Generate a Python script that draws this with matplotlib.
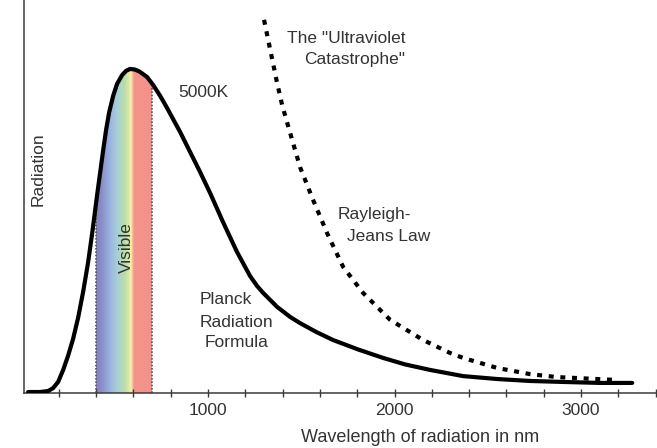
import numpy as np
import matplotlib
matplotlib.use("Agg")
import matplotlib.pyplot as plt
from matplotlib.colors import LinearSegmentedColormap
from matplotlib.patches import Polygon

plt.rcParams['font.family'] = ['Liberation Sans', 'DejaVu Sans']

# Planck curve at 5000K (nm, relative radiation)
planck_nm = [35, 99, 142, 169, 196, 223, 249, 276, 303, 330, 357, 378, 405, 421,
             437, 453, 469, 491, 512, 539, 560, 582, 609, 635, 673, 705, 743, 780,
             812, 850, 903, 957, 1011, 1080, 1155, 1225, 1263, 1295, 1370, 1440,
             1493, 1579, 1670, 1804, 1938, 2056, 2190, 2367, 2550, 2727, 2903,
             3102, 3274]
planck_val = [0.003, 0.003, 0.006, 0.015, 0.034, 0.071, 0.114, 0.166, 0.231, 0.311,
              0.403, 0.489, 0.609, 0.677, 0.745, 0.809, 0.862, 0.914, 0.951, 0.978,
              0.991, 0.997, 0.995, 0.988, 0.972, 0.948, 0.914, 0.877, 0.843, 0.803,
              0.742, 0.680, 0.615, 0.526, 0.434, 0.360, 0.329, 0.308, 0.265, 0.234,
              0.215, 0.188, 0.163, 0.134, 0.108, 0.088, 0.071, 0.052, 0.043, 0.037,
              0.034, 0.031, 0.031]

# Rayleigh-Jeans curve
rj_nm = [1300, 1370, 1397, 1440, 1493, 1563, 1638, 1724, 1831, 1976, 2153, 2298,
         2367, 2550, 2727, 2871, 3193]
rj_val = [1.148, 0.954, 0.886, 0.800, 0.695, 0.594, 0.492, 0.388, 0.308, 0.225,
          0.163, 0.123, 0.108, 0.077, 0.058, 0.049, 0.040]

# visible band
vis_lo, vis_hi = 400, 700
spec_nm = [400, 430, 475, 515, 550, 575, 588, 598, 605, 700]
spec_col = ['#8682c0', '#8a8ec8', '#9ab4e0', '#a8d0d8', '#b8dcac', '#d8e8a8',
            '#f8f2a8', '#f8b098', '#f4948a', '#f4928a']

tick_pos = list(range(200, 3401, 200))
tick_lab = ['1000', '2000', '3000']

ink = '#333333'
axc = '#3a3a3a'

fig = plt.figure(figsize=(6.57, 4.48), dpi=100)
ax = fig.add_axes([24 / 657, 55 / 448, 1 - 24 / 657, 1 - 55 / 448])

# spectrum gradient clipped to the area under the curve
stops = [(n - vis_lo) / (vis_hi - vis_lo) for n in spec_nm]
cmap = LinearSegmentedColormap.from_list('vis', list(zip(stops, spec_col)))
grad = np.linspace(0, 1, 300).reshape(1, -1)
im = ax.imshow(grad, cmap=cmap, extent=[vis_lo, vis_hi, 0, 1.2], aspect='auto',
               origin='lower', zorder=1, interpolation='bilinear')
clip = Polygon(list(zip(planck_nm, planck_val)) + [(planck_nm[-1], 0), (planck_nm[0], 0)],
               closed=True, transform=ax.transData, facecolor='none', edgecolor='none')
im.set_clip_path(clip)

for edge in (vis_lo, vis_hi):
    ax.plot([edge, edge], [0, np.interp(edge, planck_nm, planck_val)],
            color='#555555', lw=1.2, linestyle=(0, (1, 1)), zorder=2)

ax.plot(planck_nm, planck_val, color='black', lw=3, solid_capstyle='round',
        solid_joinstyle='round', zorder=3)
ax.plot(rj_nm, rj_val, color='black', lw=3, linestyle=(0, (1.2, 1.6)),
        dash_capstyle='butt', zorder=3)

ax.set_xlim(13, 3407)
ax.set_ylim(0, 1.209)

ax.spines['top'].set_visible(False)
ax.spines['right'].set_visible(False)
for s in ('left', 'bottom'):
    ax.spines[s].set_color(axc)
    ax.spines[s].set_linewidth(1.1)

ax.set_yticks([])
ax.set_xticks(tick_pos)
ax.set_xticklabels([str(t) if str(t) in tick_lab else '' for t in tick_pos])
ax.tick_params(axis='x', direction='inout', length=6, width=1, color=axc,
               labelsize=12.5, labelcolor=ink, pad=4)

fs = 12.5
ax.text(88, 0.69, 'Radiation', rotation=90, ha='center', va='center', fontsize=fs, color=ink)
ax.text(560, 0.446, 'Visible', rotation=90, ha='center', va='center', fontsize=fs, color=ink, zorder=4)
ax.text(839, 0.923, '5000K', ha='left', va='center', fontsize=fs, color=ink)
ax.text(2056, 1.092, 'The "Ultraviolet', ha='right', va='center', fontsize=fs, color=ink)
ax.text(2056, 1.025, 'Catastrophe"', ha='right', va='center', fontsize=fs, color=ink)
ax.text(1692, 0.548, 'Rayleigh-', ha='left', va='center', fontsize=fs, color=ink)
ax.text(1745, 0.480, 'Jeans Law', ha='left', va='center', fontsize=fs, color=ink)
ax.text(952, 0.289, 'Planck', ha='left', va='center', fontsize=fs, color=ink)
ax.text(952, 0.218, 'Radiation', ha='left', va='center', fontsize=fs, color=ink)
ax.text(984, 0.154, 'Formula', ha='left', va='center', fontsize=fs, color=ink)

fig.text(420 / 657, 1 - 437 / 448, 'Wavelength of radiation in nm', ha='center',
         va='center', fontsize=13, color=ink)

fig.savefig('out.png', dpi=100)
